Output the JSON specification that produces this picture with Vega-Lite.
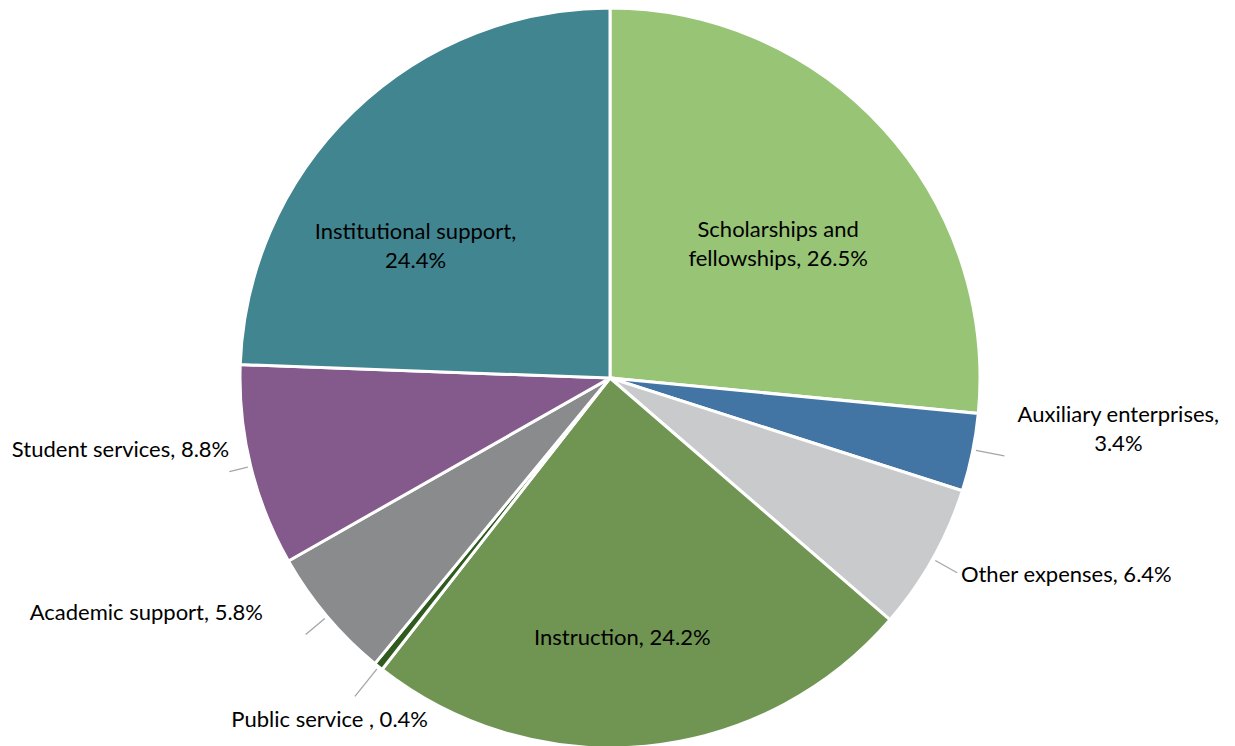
{
  "$schema": "https://vega.github.io/schema/vega-lite/v6.json",
  "width": 1220,
  "height": 756,
  "autosize": "none",
  "padding": 0,
  "background": "white",
  "config": {"view": {"stroke": null}, "text": {"font": "Lato", "fontSize": 22, "fill": "#000000", "lineHeight": 29, "baseline": "middle"}},
  "data": {
    "values": [
      {"category": "Scholarships and fellowships", "value": 26.5, "label": "Scholarships and\nfellowships, 26.5%"},
      {"category": "Auxiliary enterprises", "value": 3.4, "label": "Auxiliary enterprises,\n3.4%"},
      {"category": "Other expenses", "value": 6.4, "label": "Other expenses, 6.4%"},
      {"category": "Instruction", "value": 24.2, "label": "Instruction, 24.2%"},
      {"category": "Public service", "value": 0.4, "label": "Public service , 0.4%"},
      {"category": "Academic support", "value": 5.8, "label": "Academic support, 5.8%"},
      {"category": "Student services", "value": 8.8, "label": "Student services, 8.8%"},
      {"category": "Institutional support", "value": 24.4, "label": "Institutional support,\n24.4%"}
    ]
  },
  "transform": [
    {"calculate": "indexof(['Scholarships and fellowships','Auxiliary enterprises','Other expenses','Instruction','Public service','Academic support','Student services','Institutional support'], datum.category)", "as": "ord"}
  ],
  "layer": [
    {
      "encoding": {
        "theta": {"field": "value", "type": "quantitative", "stack": true},
        "order": {"field": "ord", "type": "quantitative"},
        "detail": {"field": "category"}
      },
      "layer": [
        {
          "mark": {"type": "arc", "radius": 370, "stroke": "white", "strokeWidth": 3},
          "encoding": {
            "color": {
              "field": "category", "type": "nominal", "legend": null,
              "scale": {
                "domain": ["Scholarships and fellowships","Auxiliary enterprises","Other expenses","Instruction","Public service","Academic support","Student services","Institutional support"],
                "range": ["#97C475","#4274A4","#C9CACC","#709553","#2F5B1E","#8A8B8D","#835A8B","#408590"]
              }
            }
          }
        },
        {
          "mark": {"type": "text", "radius": 215, "dx": 9, "dy": -3, "align": "center", "lineBreak": "\n"},
          "encoding": {"text": {"condition": {"test": "datum.category == 'Scholarships and fellowships'", "field": "label"}, "value": ""}}
        },
        {
          "mark": {"type": "text", "radius": 237, "dx": -30, "dy": 25, "align": "center", "lineBreak": "\n"},
          "encoding": {"text": {"condition": {"test": "datum.category == 'Institutional support'", "field": "label"}, "value": ""}}
        },
        {
          "mark": {"type": "text", "radius": 260, "dx": -13, "dy": 1, "align": "center"},
          "encoding": {"text": {"condition": {"test": "datum.category == 'Instruction'", "field": "label"}, "value": ""}}
        },
        {
          "mark": {"type": "text", "radius": 520, "dx": -1, "dy": -68, "align": "center", "lineBreak": "\n"},
          "encoding": {"text": {"condition": {"test": "datum.category == 'Auxiliary enterprises'", "field": "label"}, "value": ""}}
        },
        {
          "mark": {"type": "text", "radius": 400, "dx": 2, "dy": 1, "align": "left"},
          "encoding": {"text": {"condition": {"test": "datum.category == 'Other expenses'", "field": "label"}, "value": ""}}
        },
        {
          "mark": {"type": "text", "radius": 440, "dx": -5, "dy": -1, "align": "center"},
          "encoding": {"text": {"condition": {"test": "datum.category == 'Public service'", "field": "label"}, "value": ""}}
        },
        {
          "mark": {"type": "text", "radius": 400, "dx": -41, "dy": -23, "align": "right"},
          "encoding": {"text": {"condition": {"test": "datum.category == 'Academic support'", "field": "label"}, "value": ""}}
        },
        {
          "mark": {"type": "text", "radius": 390, "dx": -2, "dy": -21, "align": "right"},
          "encoding": {"text": {"condition": {"test": "datum.category == 'Student services'", "field": "label"}, "value": ""}}
        }
      ]
    },
    {
      "transform": [{"filter": "datum.category == 'Auxiliary enterprises'"}],
      "mark": {"type": "arc", "theta": 1.766, "theta2": 1.766, "radius": 373, "radius2": 402, "fillOpacity": 0, "stroke": "#a6a6a6", "strokeWidth": 1.3},
      "encoding": {}
    },
    {
      "transform": [{"filter": "datum.category == 'Other expenses'"}],
      "mark": {"type": "arc", "theta": 2.082, "theta2": 2.082, "radius": 373, "radius2": 398, "fillOpacity": 0, "stroke": "#a6a6a6", "strokeWidth": 1.3},
      "encoding": {}
    },
    {
      "transform": [{"filter": "datum.category == 'Public service'"}],
      "mark": {"type": "arc", "theta": 3.817, "theta2": 3.817, "radius": 373, "radius2": 408, "fillOpacity": 0, "stroke": "#a6a6a6", "strokeWidth": 1.3},
      "encoding": {}
    },
    {
      "transform": [{"filter": "datum.category == 'Academic support'"}],
      "mark": {"type": "arc", "theta": 4.012, "theta2": 4.012, "radius": 373, "radius2": 398, "fillOpacity": 0, "stroke": "#a6a6a6", "strokeWidth": 1.3},
      "encoding": {}
    },
    {
      "transform": [{"filter": "datum.category == 'Student services'"}],
      "mark": {"type": "arc", "theta": 4.471, "theta2": 4.471, "radius": 373, "radius2": 392, "fillOpacity": 0, "stroke": "#a6a6a6", "strokeWidth": 1.3},
      "encoding": {}
    }
  ]
}
